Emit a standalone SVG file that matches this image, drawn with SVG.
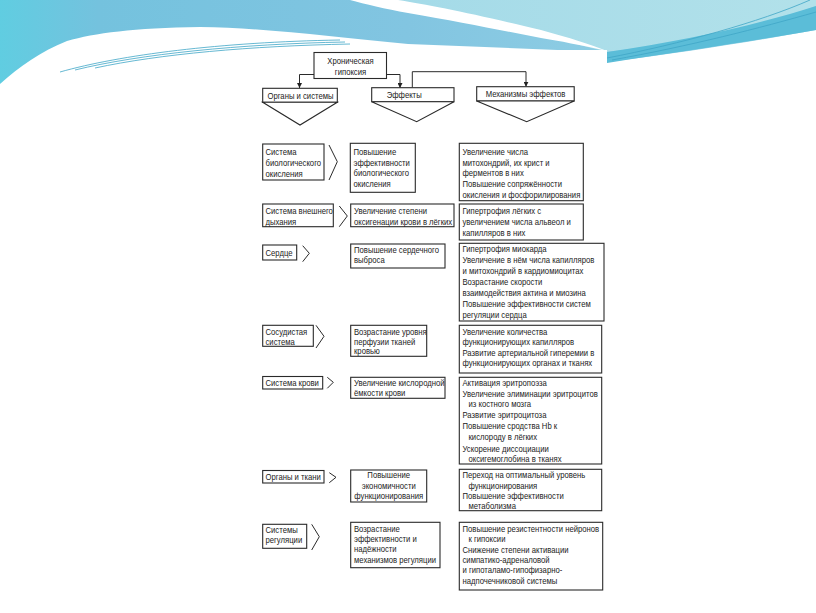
<svg xmlns="http://www.w3.org/2000/svg" width="816" height="613" viewBox="0 0 816 613">
<defs>
<linearGradient id="gA" x1="0" y1="0" x2="1" y2="0">
<stop offset="0" stop-color="#60cde1"/>
<stop offset="0.12" stop-color="#74c2de"/>
<stop offset="0.5" stop-color="#82c5e1"/>
<stop offset="1" stop-color="#9ad5e6"/>
</linearGradient>
<linearGradient id="gB" x1="0" y1="0" x2="1" y2="0">
<stop offset="0" stop-color="#a3dae8"/>
<stop offset="1" stop-color="#b2e1ea"/>
</linearGradient>
<marker id="ah" viewBox="0 0 10 10" refX="10" refY="5" markerWidth="5" markerHeight="5" orient="auto" markerUnits="userSpaceOnUse">
<path d="M0,0 L10,5 L0,10 Z" fill="#222"/>
</marker>
<style>
.b{fill:#fff;stroke:#2a2a2a;stroke-width:1.1}
.c{fill:none;stroke:#2a2a2a;stroke-width:1}
.t{font-family:'Liberation Sans',Arial,sans-serif;font-size:9.4px;fill:#222;transform-box:fill-box;transform-origin:0 50%;transform:scaleX(0.82)}
.m{text-anchor:middle;transform-origin:50% 50%}
.w{fill:none;stroke:#3fa6c6;stroke-width:0.8}
</style>
</defs>
<rect width="816" height="613" fill="#fff"/>
<g id="background">
<path d="M0,0 H816 V30 C760,40 690,52 607,62 L607,52 L408,44 C333,37 267,28 200,27 C133,28 95,33 67,41 C40,52 20,66 0,84 Z" fill="url(#gA)"/>
<path d="M363,0 H816 V6 C760,26 690,42 607,52 C560,40 500,22 408,3 C390,1 375,0 363,0 Z" fill="url(#gB)"/>
<path d="M350,0 L398,0 C430,5 475,14 541,30 C570,38 590,44 607,51 C580,45 560,41 541,38 C500,30 460,22 408,13 C385,9 365,4 350,0 Z" fill="#fff"/>
<path d="M607,52 C690,40 760,24 816,6 V30 C760,40 690,50 607,63 Z" fill="#5bbdd8"/>
<path class="w" d="M607,58 C680,44 760,22 810,0"/>
<path class="w" d="M612,60 C690,46 760,28 816,12"/>
<path class="w" d="M60,72 C120,55 220,42 340,40"/>
<path class="w" d="M75,70 C140,54 240,44 345,42"/>
<path class="w" d="M95,68 C160,54 250,46 350,44"/>
</g>
<rect x="248" y="50" width="359" height="563" fill="#fff"/>
<g id="connectors">
<path class="c" d="M314,74.5 H299.5 V88" marker-end="url(#ah)"/>
<path class="c" d="M386.5,74.5 H400 V88" marker-end="url(#ah)"/>
<path class="c" d="M412.3,87.7 V71.7 H526 V86.7" marker-end="url(#ah)"/>
<polyline class="c" points="329,145 337.3,161.7 329,180"/>
<polyline class="c" points="339.3,206 347.3,216 339.3,226.7"/>
<polyline class="c" points="302.7,245.7 309.3,253.3 302.7,261.7"/>
<polyline class="c" points="316,325.3 324,336.3 316,348"/>
<polyline class="c" points="327.3,377.3 333.3,382.3 327.3,388.3"/>
<polyline class="c" points="329.3,472.7 336,477.3 329.3,482.7"/>
<polyline class="c" points="311.7,524.3 319.3,536.7 311.7,550"/>
</g>
<g id="hypoxia">
<rect class="b" x="314" y="52.5" width="72.5" height="26"/>
<text class="t m" x="350.5" y="64.3">Хроническая</text>
<text class="t m" x="350.5" y="75.5">гипоксия</text>
</g>
<g id="h-organs">
<rect class="b" x="262.7" y="88.3" width="74.6" height="14"/>
<polygon class="b" points="262.7,102.3 337.3,102.3 300,125"/>
<text class="t m" x="300.5" y="98.8">Органы и системы</text>
</g>
<g id="h-effects">
<rect class="b" x="371.7" y="87.7" width="82.3" height="14"/>
<polygon class="b" points="371.7,101.7 454,101.7 416.7,121.7"/>
<text class="t" x="386.7" y="98.2">Эффекты</text>
</g>
<g id="h-mech">
<rect class="b" x="476.7" y="86.7" width="97.5" height="14.3"/>
<polygon class="b" points="476.7,101 574.2,101 526.7,121.7"/>
<text class="t m" x="525.5" y="97.5">Механизмы эффектов</text>
</g>
<g id="r1-sys">
<rect class="b" x="262.7" y="144" width="61.3" height="36"/>
<text class="t" x="265.5" y="155">Система</text>
<text class="t" x="265.5" y="166">биологического</text>
<text class="t" x="265.5" y="176.6">окисления</text>
</g>
<g id="r1-eff">
<rect class="b" x="350.3" y="143.3" width="65" height="49"/>
<text class="t" x="353.5" y="155">Повышение</text>
<text class="t" x="353.5" y="165.6">эффективности</text>
<text class="t" x="353.5" y="176.4">биологического</text>
<text class="t" x="353.5" y="187.4">окисления</text>
</g>
<g id="r1-mech">
<rect class="b" x="459.3" y="143.3" width="124" height="57.4"/>
<text class="t" x="462.5" y="155">Увеличение числа</text>
<text class="t" x="462.5" y="165.6">митохондрий, их крист и</text>
<text class="t" x="462.5" y="176">ферментов в них</text>
<text class="t" x="462.5" y="186.6">Повышение сопряжённости</text>
<text class="t" x="462.5" y="197.6">окисления и фосфорилирования</text>
</g>
<g id="r2-sys">
<rect class="b" x="262.7" y="204" width="70.6" height="22.7"/>
<text class="t" x="265.5" y="214.3">Система внешнего</text>
<text class="t" x="265.5" y="225">дыхания</text>
</g>
<g id="r2-eff">
<rect class="b" x="350.7" y="204" width="103.3" height="22.7"/>
<text class="t" x="354" y="214.3">Увеличение степени</text>
<text class="t" x="354" y="225">оксигенации крови в лёгких</text>
</g>
<g id="r2-mech">
<rect class="b" x="459.3" y="204" width="124" height="36"/>
<text class="t" x="462.5" y="214.3">Гипертрофия лёгких с</text>
<text class="t" x="462.5" y="225">увеличением числа альвеол и</text>
<text class="t" x="462.5" y="236.4">капилляров в них</text>
</g>
<g id="r3-sys">
<rect class="b" x="262.7" y="245" width="34" height="15"/>
<text class="t" x="265.5" y="255.6">Сердце</text>
</g>
<g id="r3-eff">
<rect class="b" x="350.7" y="244" width="94.3" height="24"/>
<text class="t" x="354" y="253.4">Повышение сердечного</text>
<text class="t" x="354" y="263.4">выброса</text>
</g>
<g id="r3-mech">
<rect class="b" x="459.3" y="243.3" width="144.7" height="77.7"/>
<text class="t" x="462.5" y="252.3">Гипертрофия миокарда</text>
<text class="t" x="462.5" y="263.3">Увеличение в нём числа капилляров</text>
<text class="t" x="462.5" y="274">и митохондрий в кардиомиоцитах</text>
<text class="t" x="462.5" y="285">Возрастание скорости</text>
<text class="t" x="462.5" y="296.3">взаимодействия актина и миозина</text>
<text class="t" x="462.5" y="307.3">Повышение эффективности систем</text>
<text class="t" x="462.5" y="318">регуляции сердца</text>
</g>
<g id="r4-sys">
<rect class="b" x="262.7" y="325.3" width="50.6" height="21"/>
<text class="t" x="265.5" y="335.3">Сосудистая</text>
<text class="t" x="265.5" y="344.6">система</text>
</g>
<g id="r4-eff">
<rect class="b" x="350.7" y="325.3" width="76" height="31"/>
<text class="t" x="354" y="334.6">Возрастание уровня</text>
<text class="t" x="354" y="344.6">перфузии тканей</text>
<text class="t" x="354" y="354">кровью</text>
</g>
<g id="r4-mech">
<rect class="b" x="459.3" y="325.3" width="142.4" height="47.7"/>
<text class="t" x="462.5" y="334.6">Увеличение количества</text>
<text class="t" x="462.5" y="345.3">функционирующих капилляров</text>
<text class="t" x="462.5" y="355.6">Развитие артериальной гиперемии в</text>
<text class="t" x="462.5" y="366.3">функционирующих органах и тканях</text>
</g>
<g id="r5-sys">
<rect class="b" x="262.7" y="376.5" width="60" height="12.5"/>
<text class="t" x="265.5" y="385.8">Система крови</text>
</g>
<g id="r5-eff">
<rect class="b" x="350.7" y="377.3" width="94.3" height="21"/>
<text class="t" x="354" y="385.8">Увеличение кислородной</text>
<text class="t" x="354" y="396">ёмкости крови</text>
</g>
<g id="r5-mech">
<rect class="b" x="459.3" y="377.3" width="142.4" height="86.7"/>
<text class="t" x="462.5" y="385.6">Активация эритропоэза</text>
<text class="t" x="462.5" y="397.3">Увеличение элиминации эритроцитов</text>
<text class="t" x="468.5" y="407.3">из костного мозга</text>
<text class="t" x="462.5" y="418.3">Развитие эритроцитоза</text>
<text class="t" x="462.5" y="429.3">Повышение сродства Hb к</text>
<text class="t" x="468.5" y="440">кислороду в лёгких</text>
<text class="t" x="462.5" y="452.3">Ускорение диссоциации</text>
<text class="t" x="468.5" y="462.3">оксигемоглобина в тканях</text>
</g>
<g id="r6-sys">
<rect class="b" x="262.7" y="470.5" width="61.3" height="12.5"/>
<text class="t" x="265.5" y="479.6">Органы и ткани</text>
</g>
<g id="r6-eff">
<rect class="b" x="350.7" y="470" width="76" height="32"/>
<text class="t m" x="388.7" y="478.3">Повышение</text>
<text class="t m" x="388.7" y="489">экономичности</text>
<text class="t m" x="388.7" y="499.3">функционирования</text>
</g>
<g id="r6-mech">
<rect class="b" x="459.3" y="469.3" width="142.4" height="41.4"/>
<text class="t" x="462.5" y="478.3">Переход на оптимальный уровень</text>
<text class="t" x="468.5" y="488.6">функционирования</text>
<text class="t" x="462.5" y="499.3">Повышение эффективности</text>
<text class="t" x="468.5" y="509">метаболизма</text>
</g>
<g id="r7-sys">
<rect class="b" x="262.7" y="524.3" width="44" height="24"/>
<text class="t" x="265.5" y="533.3">Системы</text>
<text class="t" x="265.5" y="543.3">регуляции</text>
</g>
<g id="r7-eff">
<rect class="b" x="350.7" y="522.3" width="89.3" height="45.4"/>
<text class="t" x="354" y="532.3">Возрастание</text>
<text class="t" x="354" y="542.3">эффективности и</text>
<text class="t" x="354" y="552.3">надёжности</text>
<text class="t" x="354" y="563.3">механизмов регуляции</text>
</g>
<g id="r7-mech">
<rect class="b" x="459.3" y="522.3" width="143.4" height="67.7"/>
<text class="t" x="462.5" y="532.3">Повышение резистентности нейронов</text>
<text class="t" x="468.5" y="542.3">к гипоксии</text>
<text class="t" x="462.5" y="553.3">Снижение степени активации</text>
<text class="t" x="462.5" y="563.3">симпатико-адреналовой</text>
<text class="t" x="462.5" y="573.3">и гипоталамо-гипофизарно-</text>
<text class="t" x="462.5" y="584.3">надпочечниковой системы</text>
</g>
</svg>
